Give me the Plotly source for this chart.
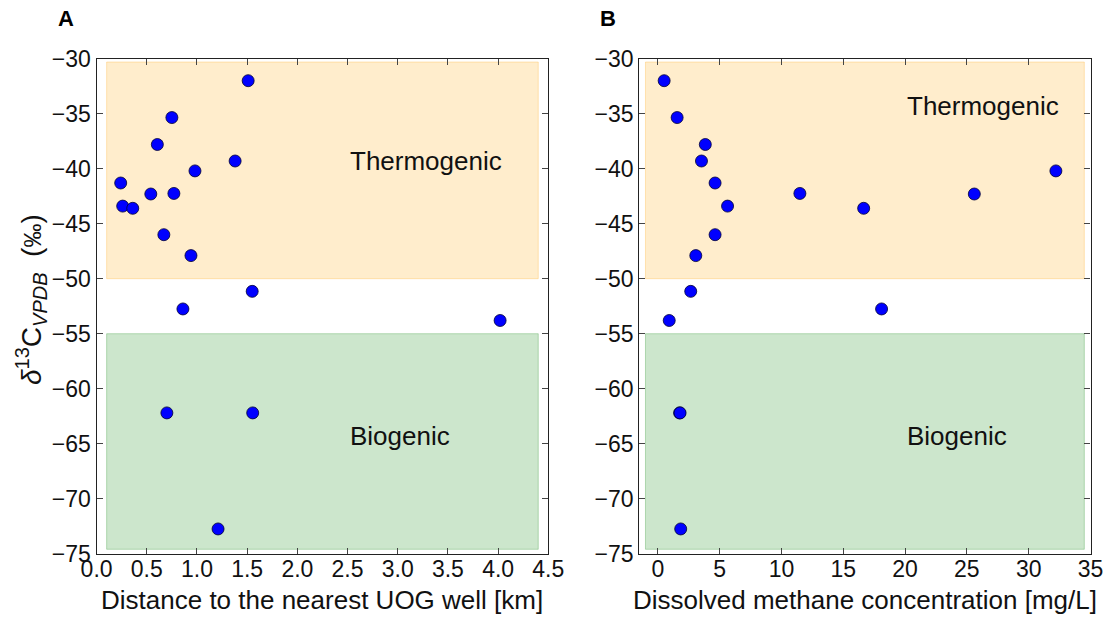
import plotly.graph_objects as go

# Distance to the nearest UOG well [km] and matching delta-13C values
distance_km = [1.51, 0.75, 0.605, 1.38, 0.98, 0.24, 0.54, 0.77, 0.26, 0.36,
               0.67, 0.94, 1.55, 0.86, 4.02, 0.70, 1.555, 1.21]
delta13c_a = [-32.0, -35.35, -37.8, -39.3, -40.2, -41.3, -42.3, -42.25, -43.4, -43.6,
              -46.0, -47.9, -51.15, -52.75, -53.8, -62.2, -62.2, -72.75]

# Dissolved methane concentration [mg/L] and matching delta-13C values
methane_mgl = [0.51, 1.56, 3.84, 3.53, 32.2, 4.63, 11.49, 25.6, 5.64, 16.65,
               4.63, 3.07, 2.66, 18.1, 0.92, 1.76, 1.80, 1.85]
delta13c_b = [-32.0, -35.35, -37.8, -39.3, -40.2, -41.3, -42.25, -42.3, -43.4, -43.6,
              -46.0, -47.9, -51.15, -52.75, -53.8, -62.2, -62.2, -72.75]

y_ticks = [-30, -35, -40, -45, -50, -55, -60, -65, -70, -75]
x_ticks_a = [0.0, 0.5, 1.0, 1.5, 2.0, 2.5, 3.0, 3.5, 4.0, 4.5]
x_ticks_b = [0, 5, 10, 15, 20, 25, 30, 35]

FONT = "Liberation Sans, Arial, sans-serif"
W, H = 1108, 617

# plot-area pixel boxes
ax_a = (96.6, 548.3)
ax_b = (639.3, 1090.5)
ax_top, ax_bot = 58.7, 553.7


def px(xp):
    return xp / W


def py(yp):
    return 1 - yp / H


fig = go.Figure()

marker = dict(size=12, color="#0000ff", line=dict(color="#000033", width=0.8))
fig.add_trace(go.Scatter(x=distance_km, y=delta13c_a, mode="markers", marker=marker,
                         xaxis="x", yaxis="y", showlegend=False))
fig.add_trace(go.Scatter(x=methane_mgl, y=delta13c_b, mode="markers", marker=marker,
                         xaxis="x2", yaxis="y2", showlegend=False))

# source regions
thermo_fill = "rgba(255,165,0,0.2)"
thermo_edge = "rgba(255,165,0,0.25)"
bio_fill = "rgba(0,128,0,0.2)"
bio_edge = "rgba(0,128,0,0.25)"
regions = [
    ("x", "y", 0.1, 4.4),
    ("x2", "y2", -1.0, 34.5),
]
for xr, yr, x0, x1 in regions:
    fig.add_shape(type="rect", xref=xr, yref=yr, x0=x0, x1=x1, y0=-50, y1=-30.3,
                  fillcolor=thermo_fill, line=dict(color=thermo_edge, width=1), layer="below")
    fig.add_shape(type="rect", xref=xr, yref=yr, x0=x0, x1=x1, y0=-74.6, y1=-55,
                  fillcolor=bio_fill, line=dict(color=bio_edge, width=1), layer="below")

axis_common = dict(
    showgrid=False, zeroline=False, showline=True, linecolor="#222222", linewidth=1.3,
    mirror="ticks", ticks="inside", ticklen=6, tickwidth=1, tickcolor="#444444",
    tickfont=dict(family=FONT, size=23, color="#111111"), automargin=False,
)

y_dom = [py(ax_bot), py(ax_top)]
fig.update_layout(
    width=W, height=H,
    margin=dict(l=0, r=0, t=0, b=0),
    paper_bgcolor="white", plot_bgcolor="white",
    xaxis=dict(domain=[px(ax_a[0]), px(ax_a[1])], range=[0, 4.5], tickvals=x_ticks_a,
               tickformat=".1f", anchor="y", ticklabelstandoff=-5, **axis_common),
    yaxis=dict(domain=y_dom, range=[-75, -30], tickvals=y_ticks, anchor="x", **axis_common),
    xaxis2=dict(domain=[px(ax_b[0]), px(ax_b[1])], range=[-1.5, 35], tickvals=x_ticks_b,
                anchor="y2", ticklabelstandoff=-5, **axis_common),
    yaxis2=dict(domain=y_dom, range=[-75, -30], tickvals=y_ticks, anchor="x2", **axis_common),
)

text_font = dict(family=FONT, size=26, color="#111111")
annotations = [
    dict(x=2.5, y=-39.3, xref="x", yref="y", text="Thermogenic", xanchor="left", yanchor="middle"),
    dict(x=2.5, y=-64.3, xref="x", yref="y", text="Biogenic", xanchor="left", yanchor="middle"),
    dict(x=20, y=-34.3, xref="x2", yref="y2", text="Thermogenic", xanchor="left", yanchor="middle"),
    dict(x=20, y=-64.3, xref="x2", yref="y2", text="Biogenic", xanchor="left", yanchor="middle"),
]
for a in annotations:
    fig.add_annotation(showarrow=False, font=text_font, **a)

title_font = dict(family=FONT, size=26, color="#111111")
fig.add_annotation(x=px((ax_a[0] + ax_a[1]) / 2), y=py(600), xref="paper", yref="paper",
                   text="Distance to the nearest UOG well [km]", showarrow=False,
                   xanchor="center", yanchor="middle", font=title_font)
fig.add_annotation(x=px((ax_b[0] + ax_b[1]) / 2), y=py(600), xref="paper", yref="paper",
                   text="Dissolved methane concentration [mg/L]", showarrow=False,
                   xanchor="center", yanchor="middle", font=title_font)
ylabel = ("<i>δ</i><sup><span style='font-size:20px'>13</span></sup>C"
          "<sub><i><span style='font-size:20px'>VPDB</span></i></sub>"
          "  (<span style='font-size:24px'>‰</span>)")
fig.add_annotation(x=px(31), y=py(300), xref="paper", yref="paper",
                   text=ylabel, textangle=-90,
                   showarrow=False, xanchor="center", yanchor="middle",
                   font=dict(family=FONT, size=28, color="#111111"))

letter_font = dict(family=FONT, size=22, color="#000000")
fig.add_annotation(x=px(66), y=py(18), xref="paper", yref="paper", text="<b>A</b>",
                   showarrow=False, xanchor="center", yanchor="middle", font=letter_font)
fig.add_annotation(x=px(608), y=py(18), xref="paper", yref="paper", text="<b>B</b>",
                   showarrow=False, xanchor="center", yanchor="middle", font=letter_font)

fig.write_html("out.html")
